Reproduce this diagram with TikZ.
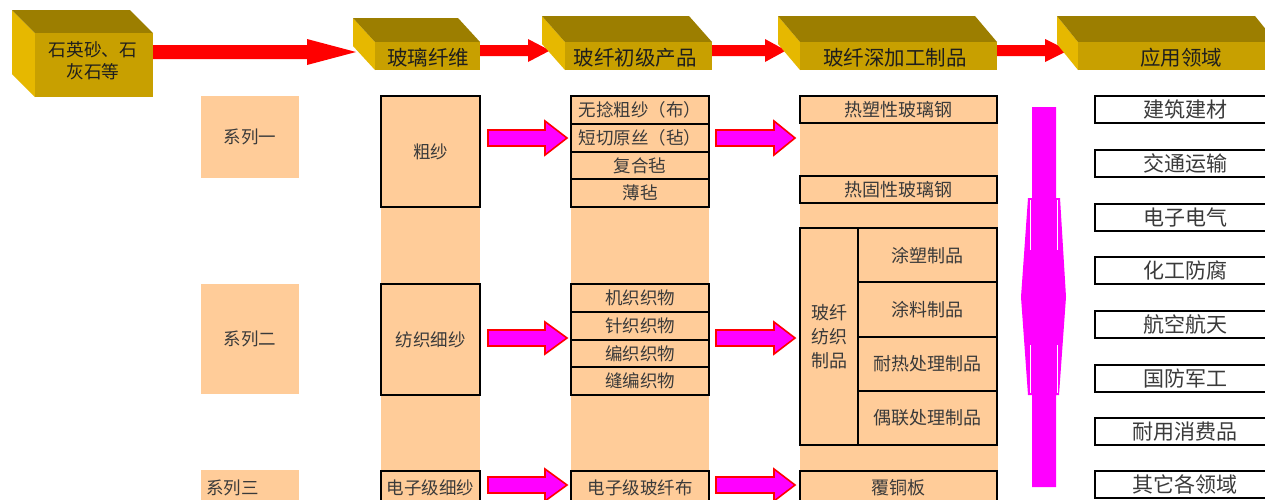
\documentclass[tikz,border=0pt]{standalone}
\usepackage{fontspec}
\newfontfamily\cjk{Noto Sans CJK SC}
\definecolor{peach}{HTML}{FFCC99}
\definecolor{goldfront}{HTML}{C8A000}
\definecolor{goldtop}{HTML}{9C7E00}
\definecolor{goldside}{HTML}{E6B800}
\definecolor{txtc}{HTML}{3A3A3A}
\definecolor{toptxt}{HTML}{1E1E1E}
\definecolor{mag}{HTML}{FF00FF}
% style, x0, xb, tip, cy, shaft half height, head half height
\newcommand\myfatarrow[7]{%
  \path[#1] (#2,{#5-#6}) -- (#3,{#5-#6}) -- (#3,{#5-#7}) -- (#4,#5) -- (#3,{#5+#7}) -- (#3,{#5+#6}) -- (#2,{#5+#6}) -- cycle;}
% name, x1, y1, x2, y2, dx, dy
\newcommand\mygoldbox[7]{%
  \fill[goldside] ({#2-#6},{#3-#7}) -- (#2,#3) -- (#2,#5) -- ({#2-#6},{#5-#7}) -- cycle;
  \fill[goldtop] ({#2-#6},{#3-#7}) -- ({#4-#6},{#3-#7}) -- (#4,#3) -- (#2,#3) -- cycle;
  \node[fill=goldfront, anchor=north west, inner sep=0pt, minimum width={#4-#2}, minimum height={#5-#3}] (#1) at (#2,#3) {};}
\begin{document}
\begin{tikzpicture}[x=1pt,y=-1pt,
  every node/.style={inner sep=0pt, outer sep=0pt},
  toptext/.style={font=\cjk\fontsize{20.5}{22}\selectfont, text=toptxt, align=center},
  strip/.style={fill=peach, anchor=north west},
  cell/.style={draw=black, line width=2pt, fill=peach, anchor=north west, font=\cjk\fontsize{17.5}{21}\selectfont, text=txtc, align=center},
  cellb/.style={cell, font=\cjk\fontsize{18}{24}\selectfont},
  series/.style={fill=peach, anchor=north west, minimum width=98pt, font=\cjk\fontsize{17.5}{21}\selectfont, text=txtc},
  wbox/.style={draw=black, line width=2pt, fill=white, anchor=north west, minimum width=180pt, minimum height=27pt, font=\cjk\fontsize{21}{24}\selectfont, text=txtc},
  redarr/.style={fill=red},
  pinkarr/.style={fill=mag, draw=red, line width=1.6pt, line join=miter}
]
\useasboundingbox (0,0) rectangle (1265,499);
\fill[white] (0,0) rectangle (1265,499);

% ---- top red arrows (drawn below the boxes)
\myfatarrow{redarr}{150}{307}{356}{52}{7}{13}
\myfatarrow{redarr}{478}{528}{550}{50.5}{5.5}{11.5}
\myfatarrow{redarr}{710}{765}{786}{50.5}{5.5}{11.5}
\myfatarrow{redarr}{995}{1045}{1068}{50.5}{5.5}{11.5}

% ---- top 3D boxes
\mygoldbox{b1}{35}{33}{153}{97}{23}{23}
\mygoldbox{b2}{375}{42}{480}{70}{22}{24}
\mygoldbox{b3}{565}{42}{712}{70}{23}{26}
\mygoldbox{b4}{800}{42}{997}{70}{22}{26}
\mygoldbox{b5}{1078}{42}{1276}{70}{21}{26}
\node[toptext, font=\cjk\fontsize{17.7}{22}\selectfont] (b1t) at (93,61) {石英砂、石\\灰石等};
\node[toptext] (b2t) at (428,58) {玻璃纤维};
\node[toptext] (b3t) at (635,58) {玻纤初级产品};
\node[toptext] (b4t) at (895,58) {玻纤深加工制品};
\node[toptext] (b5t) at (1181,58) {应用领域};

% ---- series labels
\node[series, minimum height=82pt] (ser1) at (201,96) {系列一};
\node[series, minimum height=110pt] (ser2) at (201,284) {系列二};
\node[series, minimum height=40pt] (ser3) at (201,470) {};
\node[font=\cjk\fontsize{17.5}{21}\selectfont, text=txtc, anchor=west] (ser3t) at (206,488) {系列三};

% ---- peach column strips
\node[strip, minimum width=99pt, minimum height=414pt] (s2) at (381,96) {};
\node[strip, minimum width=138pt, minimum height=414pt] (s3) at (571,96) {};
\node[strip, minimum width=198pt, minimum height=414pt] (s4) at (800,96) {};

% ---- column 2
\node[cell, minimum width=99pt, minimum height=111pt] (cusha) at (381,96) {粗纱};
\node[cell, minimum width=99pt, minimum height=111pt] (fangzhi) at (381,284) {纺织细纱};
\node[cell, minimum width=99pt, minimum height=34pt] (dzxs) at (381,471) {电子级细纱};

% ---- column 3
\node[cell, minimum width=138pt, minimum height=27.75pt] (p1) at (571,96) {无捻粗纱（布）};
\node[cell, minimum width=138pt, minimum height=27.75pt] (p2) at (571,123.75) {短切原丝（毡）};
\node[cell, minimum width=138pt, minimum height=27.75pt] (p3) at (571,151.5) {复合毡};
\node[cell, minimum width=138pt, minimum height=27.75pt] (p4) at (571,179.25) {薄毡};
\node[cell, minimum width=138pt, minimum height=27.75pt] (q1) at (571,284) {机织织物};
\node[cell, minimum width=138pt, minimum height=27.75pt] (q2) at (571,311.75) {针织织物};
\node[cell, minimum width=138pt, minimum height=27.75pt] (q3) at (571,339.5) {编织织物};
\node[cell, minimum width=138pt, minimum height=27.75pt] (q4) at (571,367.25) {缝编织物};
\node[cell, minimum width=138pt, minimum height=33pt] (r1) at (571,471) {电子级玻纤布};

% ---- column 4
\node[cellb, minimum width=197pt, minimum height=27pt] (rsx) at (800,96) {热塑性玻璃钢};
\node[cellb, minimum width=197pt, minimum height=27pt] (rgx) at (800,176) {热固性玻璃钢};
\node[cellb, minimum width=58pt, minimum height=217pt] (fz) at (800,228) {玻纤\\纺织\\制品};
\node[cellb, minimum width=139pt, minimum height=54.25pt] (z1) at (858,228) {涂塑制品};
\node[cellb, minimum width=139pt, minimum height=54.25pt] (z2) at (858,282.25) {涂料制品};
\node[cellb, minimum width=139pt, minimum height=54.25pt] (z3) at (858,336.5) {耐热处理制品};
\node[cellb, minimum width=139pt, minimum height=54.25pt] (z4) at (858,390.75) {偶联处理制品};
\node[cellb, minimum width=197pt, minimum height=33pt] (ftb) at (800,471) {覆铜板};

% ---- column 5
\node[wbox] (a1) at (1095,96) {建筑建材};
\node[wbox] (a2) at (1095,150) {交通运输};
\node[wbox] (a3) at (1095,204) {电子电气};
\node[wbox] (a4) at (1095,257) {化工防腐};
\node[wbox] (a5) at (1095,311) {航空航天};
\node[wbox] (a6) at (1095,365) {国防军工};
\node[wbox] (a7) at (1095,418) {耐用消费品};
\node[wbox] (a8) at (1095,471) {其它各领域};

% ---- magenta block arrows
\myfatarrow{pinkarr}{488}{545}{567}{138}{8}{17}
\myfatarrow{pinkarr}{716}{774}{795}{138}{8}{17}
\myfatarrow{pinkarr}{488}{545}{567}{338}{8}{16}
\myfatarrow{pinkarr}{716}{774}{795}{338}{8}{16}
\myfatarrow{pinkarr}{488}{545}{567}{485}{8}{16}
\myfatarrow{pinkarr}{716}{774}{795}{485}{8}{16}

% ---- vertical magenta arrow
\fill[mag] (1032,107) -- (1056,107) -- (1056,198) -- (1060,198) -- (1066,297) -- (1059,395) -- (1056,395) -- (1056,487) -- (1032,487) -- (1032,395) -- (1028,395) -- (1021,297) -- (1028,198) -- (1032,198) -- cycle;
\draw[white, line width=0.9pt] (1030.3,200) -- (1030.3,250) (1057.7,200) -- (1057.7,250)
  (1030.3,345) -- (1030.3,393) (1057.7,345) -- (1057.7,393);
\end{tikzpicture}
\end{document}
